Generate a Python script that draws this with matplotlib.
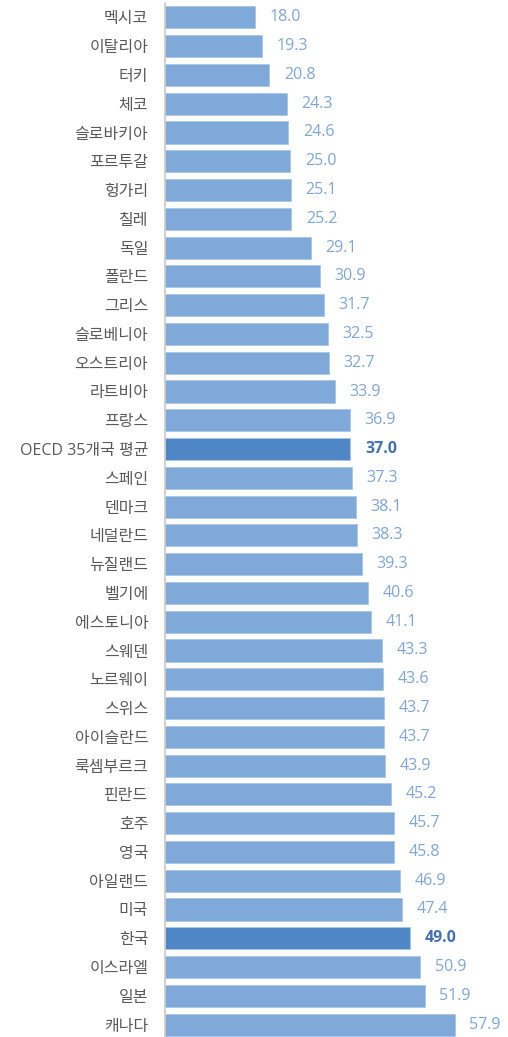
import matplotlib.pyplot as plt

plt.rcParams['font.family'] = ['Open Sans', 'Noto Sans CJK KR', 'DejaVu Sans']

countries = ['멕시코', '이탈리아', '터키', '체코', '슬로바키아', '포르투갈', '헝가리', '칠레',
             '독일', '폴란드', '그리스', '슬로베니아', '오스트리아', '라트비아', '프랑스',
             'OECD 35개국 평균', '스페인', '덴마크', '네덜란드', '뉴질랜드', '벨기에', '에스토니아',
             '스웨덴', '노르웨이', '스위스', '아이슬란드', '룩셈부르크', '핀란드', '호주', '영국',
             '아일랜드', '미국', '한국', '이스라엘', '일본', '캐나다']
values = [18.0, 19.3, 20.8, 24.3, 24.6, 25.0, 25.1, 25.2, 29.1, 30.9, 31.7, 32.5, 32.7,
          33.9, 36.9, 37.0, 37.3, 38.1, 38.3, 39.3, 40.6, 41.1, 43.3, 43.6, 43.7, 43.7,
          43.9, 45.2, 45.7, 45.8, 46.9, 47.4, 49.0, 50.9, 51.9, 57.9]
highlight = ['OECD 35개국 평균', '한국']

fig = plt.figure(figsize=(5.08, 10.37), dpi=100)
ax = fig.add_axes([165 / 508, -2 / 1037, 1 - 165 / 508, 1036 / 1037])

y = range(len(countries))
colors = ['#4F86C6' if c in highlight else '#7EA9D8' for c in countries]
ax.barh(y, values, height=0.77, color=colors, edgecolor='#A9C6E8', linewidth=0.6)

# 값 레이블: 강조 항목은 진한 파랑 굵게
for i, (c, v) in enumerate(zip(countries, values)):
    hl = c in highlight
    ax.text(v + 3.0, i, f'{v:.1f}', va='center', ha='left', fontsize=11.5,
            color='#4472B0' if hl else '#7EA6D8', fontweight='bold' if hl else 'normal')

ax.set_yticks(list(y))
ax.set_yticklabels(countries, fontsize=11.5, color='#595959')
ax.tick_params(axis='y', length=0, pad=12)
ax.set_xticks([])
ax.set_xlim(0, 68.6)
ax.set_ylim(len(countries) - 0.5, -0.5)
for s in ['top', 'right', 'bottom']:
    ax.spines[s].set_visible(False)
ax.spines['left'].set_color('#C8C8C8')
ax.spines['left'].set_linewidth(1.2)

fig.savefig('out.png', dpi=100)
